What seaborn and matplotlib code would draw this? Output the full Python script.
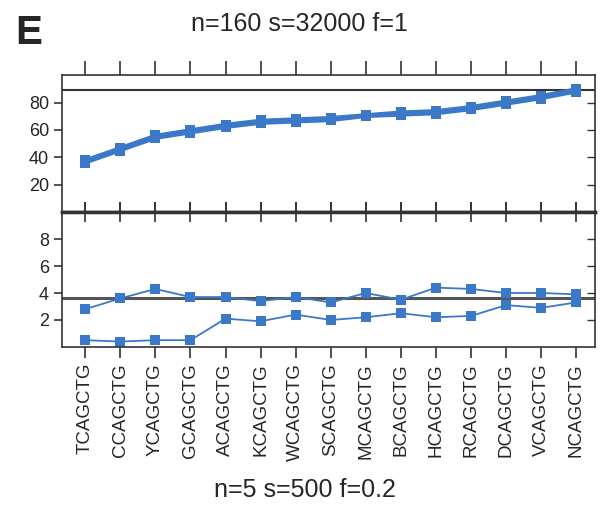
import numpy as np
import pandas as pd
import matplotlib
matplotlib.use("Agg")
import matplotlib.pyplot as plt
import seaborn as sns

# data
motifs = ["TCAGCTG", "CCAGCTG", "YCAGCTG", "GCAGCTG", "ACAGCTG", "KCAGCTG", "WCAGCTG",
          "SCAGCTG", "MCAGCTG", "BCAGCTG", "HCAGCTG", "RCAGCTG", "DCAGCTG", "VCAGCTG", "NCAGCTG"]
top_a = [36, 45, 54, 58, 62, 65, 66, 67, 70, 71, 72, 75, 79, 83, 88]
top_b = [38, 47, 56, 60, 64, 67, 68, 69, 71, 73, 74, 77, 81, 85, 90]
top_ref = 89
bot_upper = [2.8, 3.6, 4.3, 3.7, 3.7, 3.4, 3.7, 3.3, 4.0, 3.5, 4.4, 4.3, 4.0, 4.0, 3.9]
bot_lower = [0.5, 0.4, 0.5, 0.5, 2.1, 1.9, 2.4, 2.0, 2.2, 2.5, 2.2, 2.3, 3.1, 2.9, 3.3]
bot_ref = 3.65

sns.set_style("ticks")
plt.rcParams['font.family'] = ['Liberation Sans', 'DejaVu Sans']

blue = "#3b78c8"
dark = "#333333"

x = np.arange(len(motifs))
top_df = pd.DataFrame({"x": np.concatenate([x, x]), "y": top_a + top_b,
                       "s": ["a"] * len(x) + ["b"] * len(x)})
bot_df = pd.DataFrame({"x": np.concatenate([x, x]), "y": bot_upper + bot_lower,
                       "s": ["u"] * len(x) + ["l"] * len(x)})

fig = plt.figure(figsize=(6.03, 5.05), dpi=100)
ax1 = fig.add_axes([0.103, 0.580, 0.884, 0.271])
ax2 = fig.add_axes([0.103, 0.313, 0.884, 0.267])

sns.lineplot(data=top_df, x="x", y="y", units="s", estimator=None, ax=ax1,
             color=blue, lw=2.5, marker="s", markersize=7, markeredgewidth=0)
sns.lineplot(data=bot_df, x="x", y="y", units="s", estimator=None, ax=ax2,
             color=blue, lw=1.3, marker="s", markersize=7, markeredgewidth=0)
ax1.axhline(top_ref, color=dark, lw=1.5, zorder=1)
ax2.axhline(bot_ref, color="#555555", lw=2.2, zorder=1)

for ax in (ax1, ax2):
    ax.set_xlim(-0.66, 14.54)
    ax.set_xticks(x)
    ax.set_xlabel("")
    ax.set_ylabel("")
    for sp in ax.spines.values():
        sp.set_color(dark)
        sp.set_linewidth(1.2)
    ax.tick_params(axis="y", which="both", left=True, right=False, direction="out",
                   length=6, width=1.2, color=dark, labelsize=13)
    ax.tick_params(axis="x", length=7, width=1.2, color=dark)
    # inward ticks on the right spine
    for t in ax.yaxis.get_major_ticks():
        t.tick2line.set_visible(True)
        t.tick2line.set_marker(0)
        t.tick2line.set_markersize(6)
        t.tick2line.set_markeredgewidth(1.0)
        t.tick2line.set_color("#777777")

ax1.set_ylim(0, 100)
ax1.set_yticks([20, 40, 60, 80])
ax1.tick_params(axis="x", top=True, bottom=True, direction="out", length=10,
                labelbottom=False)
for t in ax1.xaxis.get_major_ticks():
    t.tick1line.set_marker("|")
    t.tick1line.set_markersize(14)
ax1.spines["bottom"].set_linewidth(2.5)

ax2.set_ylim(0, 10)
ax2.set_yticks([2, 4, 6, 8])
ax2.tick_params(axis="x", top=True, direction="out", length=8)
ax2.set_xticklabels(motifs, rotation=90, fontsize=13.5)
ax2.spines["top"].set_linewidth(2.5)
for t in ax2.xaxis.get_major_ticks():
    t.tick2line.set_marker("|")
    t.tick2line.set_markersize(14)

fig.text(0.025, 0.934, "E", fontsize=29, fontweight="bold", ha="left", va="center")
fig.text(0.497, 0.953, "n=160 s=32000 f=1", fontsize=18, ha="center", va="center")
fig.text(0.505, 0.03, "n=5 s=500 f=0.2", fontsize=18, ha="center", va="center")

fig.savefig("out.png", dpi=100)
